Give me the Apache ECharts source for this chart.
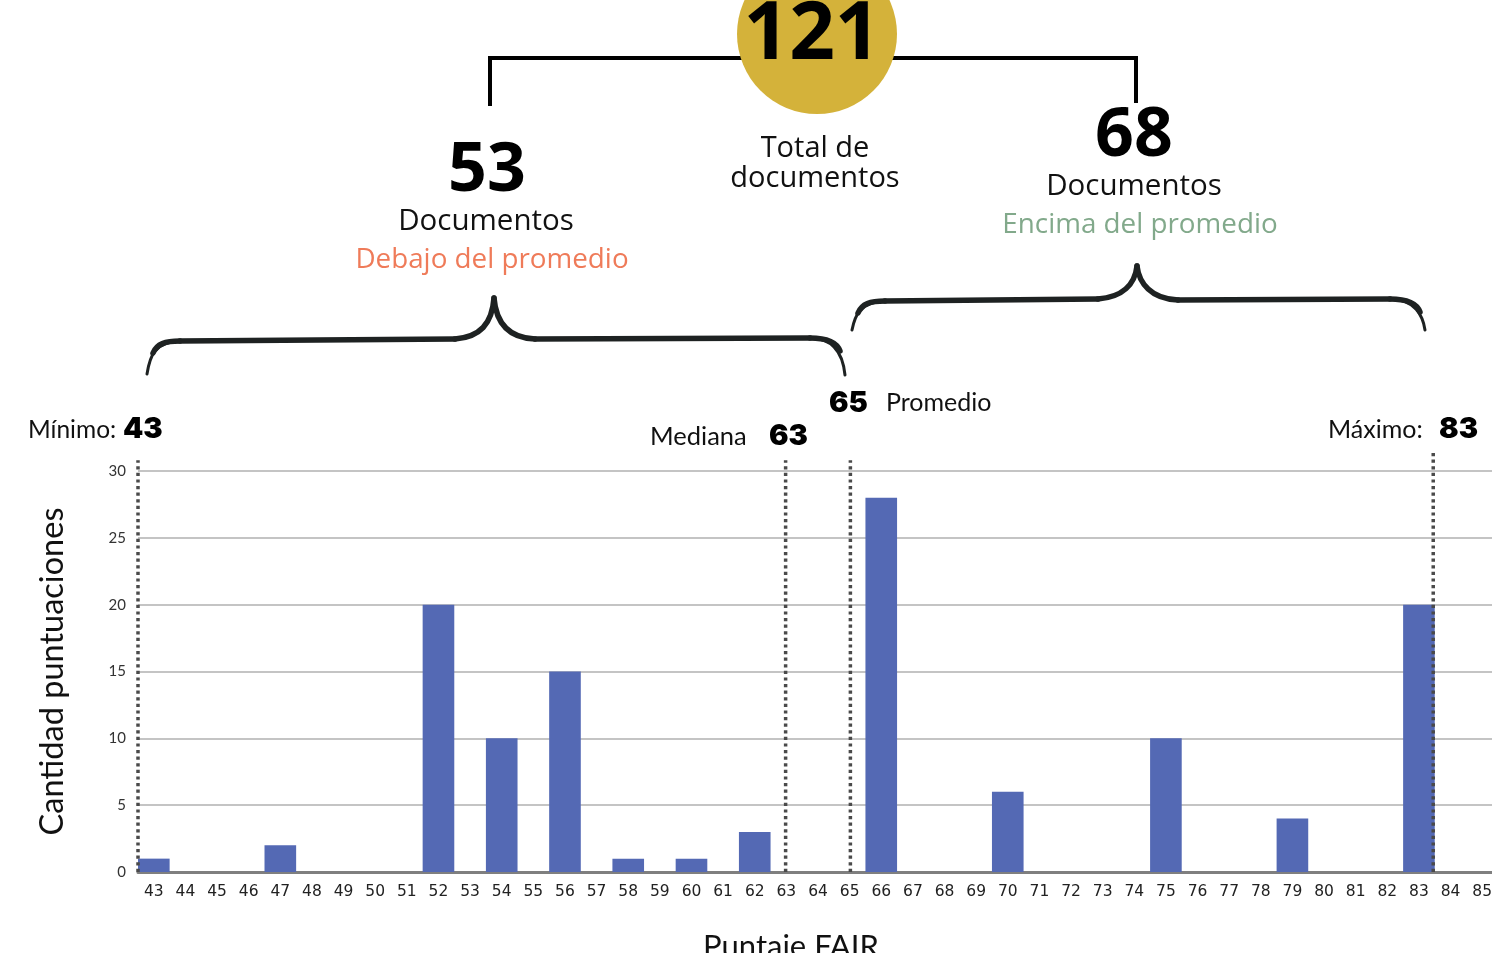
<!DOCTYPE html>
<html>
<head>
<meta charset="utf-8">
<title>Puntaje FAIR</title>
<script src="https://cdn.jsdelivr.net/npm/echarts@6/dist/echarts.min.js"></script>
<style>
  html, body { margin: 0; padding: 0; background: #ffffff; }
  #chart { width: 1492px; height: 953px; }
</style>
</head>
<body>
<div id="chart"></div>
<script>
// FAIR scores (43..85) and how many documents got each score
const categories = ['43','44','45','46','47','48','49','50','51','52','53','54','55','56','57','58','59','60','61','62','63','64','65','66','67','68','69','70','71','72','73','74','75','76','77','78','79','80','81','82','83','84','85'];
const counts =     [ 1,   0,   0,   0,   2,   0,   0,   0,   0,  20,   0,  10,   0,  15,   0,   1,   0,   1,   0,   3,   0,   0,   0,  28,   0,   0,   0,   6,   0,   0,   0,   0,  10,   0,   0,   0,   4,   0,   0,   0,  20,   0,   0];
const yTicks = { min: 0, max: 30, interval: 5 };

// Summary statistics
const statNames  = ['Mínimo:', 'Mediana', 'Promedio', 'Máximo:'];
const statValues = [43, 63, 65, 83];
const totalDocs = 121;
const belowDocs = 53;
const aboveDocs = 68;

const BAR_COLOR = '#5469b4';
const MARKER_COLOR = '#4a4a4a';
const BRACE_COLOR = '#1e2222';
const markerTop = [30.8, 30.8, 30.8, 31.6];   // how far each reference line rises

const chart = echarts.init(document.getElementById('chart'), null, { renderer: 'canvas' });

const markerSeries = statValues.map((v, i) => ({
  type: 'line',
  xAxisIndex: 1,
  yAxisIndex: 0,
  data: [[v, 0], [v, markerTop[i]]],
  symbol: 'none',
  clip: false,
  silent: true,
  z: 5,
  lineStyle: { color: MARKER_COLOR, width: 3.5, type: [3.2, 3.4], cap: 'butt' }
}));

const sans = '"Open Sans", "Noto Sans", sans-serif';
const lato = 'Lato, "Noto Sans", sans-serif';
const heavy = 'Inter, Lato, "Noto Sans", sans-serif';

function txt(x, y, text, font, fill, align) {
  return {
    type: 'text', x: x, y: y, z: 20, silent: true,
    style: { text: text, font: font, fill: fill || '#111', align: align || 'center', verticalAlign: 'middle' }
  };
}

// A curly brace: outer tips, flat runs and a central peak, built from curves and lines
function brace(x0, yTip, yFlat, xPeak, yPeak, x1, yTipR, yFlatR) {
  const st = { stroke: BRACE_COLOR, lineWidth: 5.5, fill: null, lineCap: 'round' };
  const thin = { stroke: BRACE_COLOR, lineWidth: 3, fill: null, lineCap: 'round' };
  const seg = [];
  const bez = (a, b, c, d, s) => ({ type: 'bezierCurve', z: 10, silent: true,
    shape: { x1: a[0], y1: a[1], cpx1: b[0], cpy1: b[1], cpx2: c[0], cpy2: c[1], x2: d[0], y2: d[1] }, style: s || st });
  const lin = (a, b) => ({ type: 'line', z: 10, silent: true,
    shape: { x1: a[0], y1: a[1], x2: b[0], y2: b[1] }, style: st });
  seg.push(bez([x0, yTip], [x0 + 3, yFlat + 14], [x0 + 8, yFlat + 1], [x0 + 33, yFlat], thin));
  seg.push(bez([x0 + 6, yFlat + 12], [x0 + 10, yFlat + 3], [x0 + 18, yFlat], [x0 + 33, yFlat]));
  seg.push(lin([x0 + 33, yFlat], [xPeak - 39, yFlat - 2]));
  seg.push(bez([xPeak - 39, yFlat - 2], [xPeak - 14, yFlat - 4], [xPeak - 2, yFlat - 17], [xPeak, yPeak]));
  seg.push(bez([xPeak, yPeak], [xPeak + 2, yFlatR - 17], [xPeak + 14, yFlatR - 1], [xPeak + 41, yFlatR]));
  seg.push(lin([xPeak + 41, yFlatR], [x1 - 35, yFlatR - 1]));
  seg.push(bez([x1 - 35, yFlatR - 1], [x1 - 10, yFlatR - 1], [x1 - 2, yFlatR + 16], [x1, yTipR], thin));
  seg.push(bez([x1 - 35, yFlatR - 1], [x1 - 16, yFlatR - 1], [x1 - 8, yFlatR + 4], [x1 - 5, yFlatR + 12]));
  return seg;
}

const graphics = [
  // bracket joining the two groups to the total
  { type: 'polyline', z: 10, silent: true,
    shape: { points: [[490, 106], [490, 58], [1136, 58], [1136, 103]] },
    style: { stroke: '#000', lineWidth: 4, fill: null, lineJoin: 'miter' } },
  { type: 'circle', z: 11, silent: true, shape: { cx: 817, cy: 34, r: 80 }, style: { fill: '#d4b23a' } },
  txt(812, 36, String(totalDocs), 'bold 80px ' + sans, '#000'),
  txt(815, 149, 'Total de', '29px ' + sans, '#111'),
  txt(815, 179, 'documentos', '29px ' + sans, '#111'),

  txt(487, 172, String(belowDocs), 'bold 68px ' + sans, '#000'),
  txt(486, 222, 'Documentos', '29.5px ' + sans, '#111'),
  txt(492, 260, 'Debajo del promedio', '27.8px ' + sans, '#ef7b59'),

  txt(1134, 137, String(aboveDocs), 'bold 68px ' + sans, '#000'),
  txt(1134, 187, 'Documentos', '29.5px ' + sans, '#111'),
  txt(1140, 225, 'Encima del promedio', '27.8px ' + sans, '#82a98b'),

  // statistic labels
  txt(28, 430, statNames[0], '24.5px ' + lato, '#111', 'left'),
  txt(123, 429, String(statValues[0]), '900 29px ' + heavy, '#000', 'left'),
  txt(650, 437, statNames[1], '25.5px ' + lato, '#111', 'left'),
  txt(769, 436, String(statValues[1]), '900 29px ' + heavy, '#000', 'left'),
  txt(829, 403, String(statValues[2]), '900 29px ' + heavy, '#000', 'left'),
  txt(886, 403, statNames[2], '25px ' + lato, '#111', 'left'),
  txt(1328, 430, statNames[3], '25px ' + lato, '#111', 'left'),
  txt(1439, 429, String(statValues[3]), '900 29px ' + heavy, '#000', 'left')
]
  // curly braces over each group
  .concat(brace(147, 374, 341, 494, 298, 845, 375, 339))
  .concat(brace(852, 330, 301, 1137, 266, 1425, 330, 300));

const option = {
  animation: false,
  backgroundColor: '#ffffff',
  grid: { left: 138, right: -6, top: 471, bottom: 81, containLabel: false, outerBoundsMode: 'none' },
  xAxis: [
    {
      type: 'category',
      data: categories,
      name: 'Puntaje FAIR',
      nameLocation: 'middle',
      nameGap: 59,
      nameTextStyle: { fontFamily: lato, fontSize: 31, color: '#111', padding: [0, 54, 0, 0] },
      axisLine: { show: true, lineStyle: { color: '#7f7f7f', width: 3 } },
      axisTick: { show: false },
      axisLabel: { fontFamily: '"DejaVu Sans", sans-serif', fontSize: 15.5, color: '#222', margin: 12, interval: 0 },
      splitLine: { show: false }
    },
    {
      type: 'value',
      min: statValues[0],
      max: 85,
      show: false
    }
  ],
  yAxis: {
    type: 'value',
    min: yTicks.min,
    max: yTicks.max,
    interval: yTicks.interval,
    name: 'Cantidad puntuaciones',
    nameLocation: 'middle',
    nameRotate: 90,
    nameGap: 69,
    nameTextStyle: { fontFamily: lato, fontSize: 32.5, color: '#111' },
    axisLine: { show: false },
    axisTick: { show: false },
    axisLabel: { fontFamily: lato, fontSize: 15, color: '#333', margin: 12 },
    splitLine: { lineStyle: { color: '#c4c4c4', width: 2 } }
  },
  series: [
    {
      type: 'bar',
      data: counts,
      barCategoryGap: '0%',
      itemStyle: { color: BAR_COLOR },
      z: 2
    }
  ].concat(markerSeries),
  graphic: graphics
};

chart.setOption(option);
</script>
</body>
</html>
